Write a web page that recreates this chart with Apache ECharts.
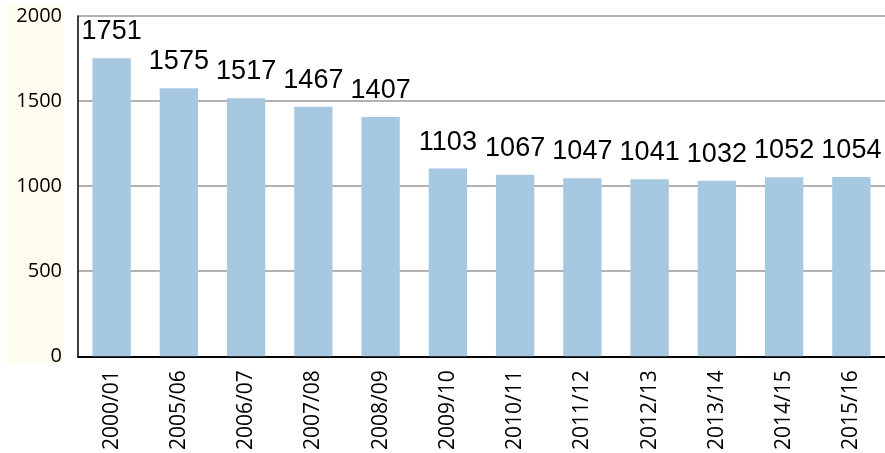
<!DOCTYPE html>
<html>
<head>
<meta charset="utf-8">
<script src="https://cdn.jsdelivr.net/npm/echarts@6/dist/echarts.min.js"></script>
<style>
  html, body { margin: 0; padding: 0; background: #fff; }
  #chart { width: 885px; height: 453px; }
</style>
</head>
<body>
<div id="chart"></div>
<script>
// 年度
const years = ['2000/01', '2005/06', '2006/07', '2007/08', '2008/09', '2009/10',
  '2010/11', '2011/12', '2012/13', '2013/14', '2014/15', '2015/16'];
// 数值
const values = [1751, 1575, 1517, 1467, 1407, 1103, 1067, 1047, 1041, 1032, 1052, 1054];
const yTicks = [0, 500, 1000, 1500, 2000];

const chart = echarts.init(document.getElementById('chart'));
const font = '"Open Sans", sans-serif';

chart.setOption({
  animation: false,
  backgroundColor: '#fff',
  // 左侧浅黄色背景
  graphic: [{
    type: 'rect',
    z: -10,
    shape: { x: 7, y: 5, width: 56, height: 358 },
    style: { fill: '#fffdf0' }
  }],
  grid: { left: 78, right: 0, top: 16, bottom: 96 },
  xAxis: {
    type: 'category',
    data: years,
    axisLine: { lineStyle: { color: '#000', width: 2 } },
    axisTick: { inside: true, length: 7, lineStyle: { color: '#000', width: 1.5 } },
    axisLabel: {
      rotate: 90,
      interval: 0,
      margin: 14,
      color: '#000',
      fontFamily: font,
      fontSize: 21
    }
  },
  yAxis: {
    type: 'value',
    min: yTicks[0],
    max: yTicks[yTicks.length - 1],
    interval: 500,
    axisLine: { show: true, lineStyle: { color: '#000', width: 1.5 } },
    axisTick: { show: false },
    splitLine: { lineStyle: { color: '#999', width: 1.5 } },
    axisLabel: {
      margin: 16,
      color: '#000',
      fontFamily: font,
      fontSize: 20,
      formatter: v => String(v)
    }
  },
  series: [{
    type: 'bar',
    data: values,
    barWidth: '57%',
    itemStyle: { color: '#a7c8e1' },
    label: {
      show: true,
      position: 'top',
      distance: 13,
      color: '#000',
      fontFamily: '"Liberation Sans", sans-serif',
      fontSize: 27
    }
  }]
});
</script>
</body>
</html>
